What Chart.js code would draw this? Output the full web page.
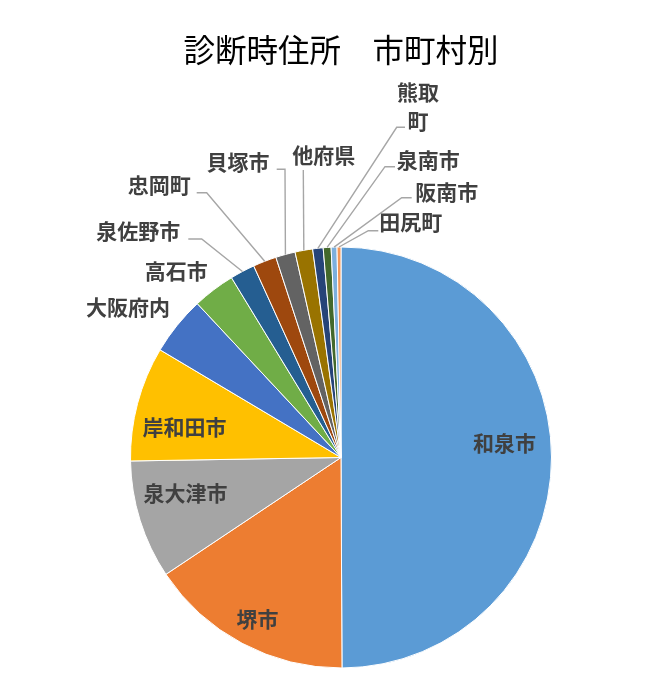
<!DOCTYPE html>
<html><head><meta charset="utf-8">
<script src="https://cdn.jsdelivr.net/npm/chart.js@4.4.0/dist/chart.umd.min.js"></script>
<style>html,body{margin:0;padding:0;background:#fff;} #wrap{width:647px;height:687px;}</style>
</head><body><div id="wrap"><canvas id="c" width="647" height="687"></canvas></div>
<script>
// ---- data ----
const categories = ['和泉市','堺市','泉大津市','岸和田市','大阪府内','高石市','泉佐野市','忠岡町','貝塚市','他府県','熊取町','泉南市','阪南市','田尻町'];
const shares = [49.9, 15.7, 9.1, 8.8, 4.5, 3.25, 1.9, 1.8, 1.5, 1.35, 0.8, 0.6, 0.45, 0.3];
const sliceColors = ['#5B9BD5','#ED7D31','#A5A5A5','#FFC000','#4472C4','#70AD47','#255E91','#9E480E','#636363','#997300','#264478','#43682B','#7CAFDD','#F1975A'];
const titleText = '診断時住所　市町村別';

// label placement (offsets from the pie centre); elbow = leader line start + bend
const labelLayout = [
  {dx:163.5, dy:-14.8},
  {dx:-83.5, dy:161.3},
  {dx:-155.5, dy:35.8},
  {dx:-156.5, dy:-30.5},
  {dx:-213, dy:-150},
  {dx:-164.7, dy:-186.2},
  {dx:-202.7, dy:-226.3, elbow:[-152.7,-218.5,-139.3,-218.5]},
  {dx:-181.8, dy:-272.5, elbow:[-144.3,-264.8,-134.3,-264.8]},
  {dx:-103, dy:-295.8, elbow:[-64.3,-288.2,-56,-288.2]},
  {dx:-17.3, dy:-302.3, elbow:[-37.7,-287.5,-37.7,-287.5]},
  {dx:77, dy:-351, wrap:2, elbow:[64,-330.2,55.7,-330.2]},
  {dx:87.3, dy:-297.5, elbow:[54,-290.8,44,-290.8]},
  {dx:105.7, dy:-265.5, elbow:[70.7,-259.8,60.7,-259.8]},
  {dx:69.8, dy:-235.5, elbow:[37.3,-226.8,27.3,-226.8]}
];

const FONT = '"Noto Sans CJK JP", "Noto Sans", sans-serif';
Chart.defaults.font.family = FONT;

const labelPlugin = {
  id: 'sliceLabels',
  afterDatasetsDraw(chart) {
    const ctx = chart.ctx;
    const meta = chart.getDatasetMeta(0);
    ctx.save();
    meta.data.forEach((arc, i) => {
      const L = labelLayout[i];
      const p = arc.getProps(['x','y','startAngle','endAngle','outerRadius'], true);
      const cx = p.x, cy = p.y;
      if (L.elbow) {
        const mid = (p.startAngle + p.endAngle) / 2;
        const ex = cx + Math.cos(mid) * p.outerRadius;
        const ey = cy + Math.sin(mid) * p.outerRadius;
        ctx.strokeStyle = '#A6A6A6';
        ctx.lineWidth = 1.4;
        ctx.beginPath();
        ctx.moveTo(cx + L.elbow[0], cy + L.elbow[1]);
        ctx.lineTo(cx + L.elbow[2], cy + L.elbow[3]);
        ctx.lineTo(ex, ey);
        ctx.stroke();
      }
      ctx.font = 'bold 21px ' + FONT;
      ctx.fillStyle = '#404040';
      ctx.textAlign = 'center';
      ctx.textBaseline = 'middle';
      const name = categories[i];
      const lines = [];
      if (L.wrap) { for (let k = 0; k < name.length; k += L.wrap) lines.push(name.slice(k, k + L.wrap)); }
      else lines.push(name);
      const lh = 29.7;
      const y0 = cy + L.dy - (lines.length - 1) * lh / 2;
      lines.forEach((t, k) => ctx.fillText(t, cx + L.dx, y0 + k * lh));
    });
    ctx.restore();
  }
};

new Chart(document.getElementById('c'), {
  type: 'pie',
  data: {
    labels: categories,
    datasets: [{
      data: shares,
      backgroundColor: sliceColors,
      borderColor: '#ffffff',
      borderWidth: 1
    }]
  },
  options: {
    responsive: false,
    animation: false,
    layout: { padding: { left: 130, right: 95, top: 0, bottom: 18.5 } },
    plugins: {
      legend: { display: false },
      tooltip: { enabled: false },
      title: {
        display: true,
        text: titleText,
        color: '#000000',
        font: { size: 31.5, weight: 'normal', family: FONT },
        padding: { top: 31.1, bottom: 177.6 }
      }
    }
  },
  plugins: [labelPlugin]
});
</script>
</body></html>
